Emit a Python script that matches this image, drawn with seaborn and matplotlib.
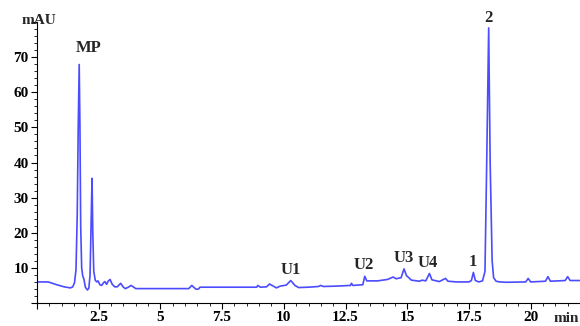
import numpy as np
import pandas as pd
import seaborn as sns
import matplotlib
matplotlib.use('Agg')
import matplotlib.pyplot as plt
from matplotlib.ticker import MultipleLocator, FuncFormatter

# retention time (min) and absorbance (mAU)
time_min = [0.0, 0.4, 0.5, 0.8, 1.1, 1.35, 1.45, 1.52, 1.58, 1.63, 1.67, 1.71, 1.74,
            1.77, 1.81, 1.85, 1.9, 1.96, 2.04, 2.1, 2.15, 2.19, 2.23, 2.26, 2.3,
            2.36, 2.42, 2.47, 2.55, 2.62, 2.7, 2.75, 2.82, 2.88, 2.96, 3.05, 3.15,
            3.25, 3.39, 3.5, 3.58, 3.7, 3.81, 3.92, 4.0, 6.15, 6.27, 6.38, 6.45,
            6.55, 6.6, 8.9, 8.95, 9.05, 9.3, 9.42, 9.55, 9.7, 9.85, 10.1, 10.28,
            10.45, 10.6, 11.0, 11.4, 11.5, 11.6, 12.1, 12.7, 12.74, 12.8, 13.2,
            13.28, 13.36, 13.8, 14.2, 14.43, 14.55, 14.75, 14.87, 14.97, 15.17,
            15.5, 15.6, 15.75, 15.9, 16.0, 16.3, 16.55, 16.65, 17.0, 17.5, 17.6,
            17.68, 17.76, 17.9, 18.05, 18.15, 18.22, 18.3, 18.36, 18.44, 18.5,
            18.6, 18.75, 19.0, 19.8, 19.9, 20.0, 20.6, 20.7, 20.8, 21.4, 21.5,
            21.6, 22.0]
signal_mau = [6.0, 6.0, 5.9, 5.2, 4.6, 4.3, 4.6, 5.8, 9.5, 25.0, 50.0, 67.9, 50.0,
              22.0, 10.0, 7.8, 6.8, 4.5, 3.7, 4.2, 8.0, 22.0, 35.5, 20.0, 9.0,
              6.5, 6.0, 6.3, 5.2, 5.0, 5.8, 6.1, 5.3, 6.2, 6.7, 5.3, 4.6,
              4.6, 5.6, 4.5, 4.1, 4.5, 5.0, 4.5, 4.1, 4.1, 5.0, 4.3, 3.9,
              4.0, 4.5, 4.5, 5.0, 4.5, 4.6, 5.4, 4.9, 4.3, 4.8, 5.1, 6.4,
              5.0, 4.4, 4.5, 4.7, 5.0, 4.7, 4.8, 5.0, 5.6, 5.0, 5.2,
              7.6, 6.3, 6.3, 6.7, 7.4, 6.9, 7.2, 9.7, 7.8, 6.5,
              6.2, 6.5, 6.3, 8.4, 6.6, 6.1, 7.0, 6.2, 6.0, 6.0, 6.4,
              8.7, 6.4, 6.0, 6.3, 9.0, 40.0, 78.3, 40.0, 12.0, 7.2,
              6.2, 6.0, 5.9, 6.0, 7.0, 6.0, 6.2, 7.5, 6.2, 6.4, 7.5,
              6.4, 6.4]

# peak labels and where they sit
peak_names = ['MP', 'U1', 'U2', 'U3', 'U4', '1', '2']
peak_label_t = [2.1, 10.28, 13.24, 14.86, 15.85, 17.65, 18.3]
peak_label_v = [72.7, 9.3, 10.7, 12.7, 11.4, 11.6, 81.0]

df = pd.DataFrame({'t': time_min, 'mAU': signal_mau})

sns.set_style('ticks')
plt.rcParams['font.family'] = 'Liberation Serif'
plt.rcParams['font.weight'] = 'bold'
FONT = 'Liberation Serif'

fig = plt.figure(figsize=(5.8, 3.26), dpi=100)
ax = fig.add_axes([37 / 580, 1 - 303 / 326, 1 - 37 / 580, (303 - 22) / 326])

sns.lineplot(data=df, x='t', y='mAU', ax=ax, color='#4b4bff', linewidth=1.2)

ax.set_xlim(0, 22)
ax.set_ylim(0, 80)
ax.set_xlabel('')
ax.set_ylabel('')
sns.despine(ax=ax)

ax.xaxis.set_major_locator(MultipleLocator(2.5))
ax.xaxis.set_minor_locator(MultipleLocator(0.5))
ax.yaxis.set_major_locator(MultipleLocator(10))
ax.yaxis.set_minor_locator(MultipleLocator(2))


def yfmt(v, pos):
    if v <= 0 or v >= 80:
        return ''
    return '%g' % v


def xfmt(v, pos):
    if v <= 0 or v > 21:
        return ''
    return '%g' % v


ax.xaxis.set_major_formatter(FuncFormatter(xfmt))
ax.yaxis.set_major_formatter(FuncFormatter(yfmt))
ax.tick_params(axis='both', which='major', length=4, width=0.8, labelsize=11,
               pad=2, colors='black')
ax.tick_params(axis='both', which='minor', length=2.5, width=0.7)
for lab in ax.get_xticklabels() + ax.get_yticklabels():
    lab.set_fontfamily(FONT)
    lab.set_fontweight('bold')
for sp in ax.spines.values():
    sp.set_color('black')

for name, t, v in zip(peak_names, peak_label_t, peak_label_v):
    ax.text(t, v, name, ha='center', va='center', fontsize=12, fontweight='bold',
            family=FONT, clip_on=False)

fig.text(39 / 580, 1 - 20 / 326, 'mAU', ha='center', va='center', fontsize=11,
         fontweight='bold', family=FONT)
fig.text(566 / 580, 1 - 318 / 326, 'min', ha='center', va='center', fontsize=11,
         fontweight='bold', family=FONT)

fig.savefig('out.png', dpi=100)
